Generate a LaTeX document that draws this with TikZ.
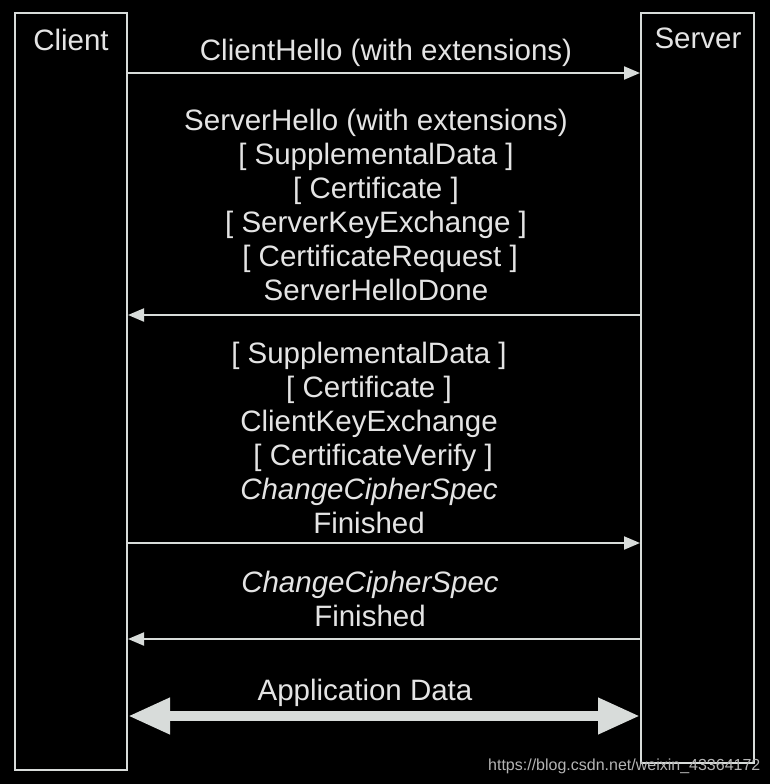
\documentclass[tikz,border=0pt]{standalone}
\usepackage{fontspec}
\setmainfont{Liberation Sans}
\usetikzlibrary{arrows.meta,calc}
\definecolor{paper}{HTML}{000000}
\definecolor{rule}{HTML}{D8DCDA}
\definecolor{ink}{HTML}{E4E4E4}
\definecolor{mark}{HTML}{B4B4B4}
\tikzset{
  party/.style={draw=rule, line width=2pt, fill=paper, minimum width=112pt,
                minimum height=757pt, inner sep=0pt},
  partyname/.style={text=ink, font=\fontsize{29.5}{30}\selectfont, inner sep=0pt},
  % message texts: centred stacks, one line per handshake message
  msgtext/.style={text=ink, align=center, inner sep=0pt,
                  font=\fontsize{29.5}{34}\selectfont},
  msg/.style={draw=rule, line width=2pt, -{Triangle[length=16pt,width=13pt]}},
  appdata/.style={draw=rule, line width=10pt,
                  {Triangle[length=42pt,width=34pt]}-{Triangle[length=42pt,width=34pt]}},
}

\begin{document}
\begin{tikzpicture}[x=1pt, y=-1pt]
  \fill[paper] (0,0) rectangle (770,784);
  \useasboundingbox (0,0) rectangle (770,784);

  % --- the two parties -------------------------------------------------------
  \node[party, anchor=north west] (client) at (14,12) {};
  \node[party, anchor=north west, minimum width=113pt, minimum height=750pt] (server) at (640,12) {};
  \node[partyname] (clientname) at (71,40) {Client};
  \node[partyname] (servername) at (698,38) {Server};

  % y levels of the messages
  \coordinate (l1) at (0,73);
  \coordinate (l2) at (0,315);
  \coordinate (l3) at (0,543);
  \coordinate (l4) at (0,639);
  \coordinate (l5) at (0,716);

  % --- flights ---------------------------------------------------------------
  \draw[msg] (client.east |- l1) -- (server.west |- l1);
  \draw[msg] (server.west |- l2) -- (client.east |- l2);
  \draw[msg] (client.east |- l3) -- (server.west |- l3);
  \draw[msg] (server.west |- l4) -- (client.east |- l4);
  \draw[appdata] (client.east |- l5) -- (server.west |- l5);

  % --- what each flight carries ---------------------------------------------
  \node[msgtext] (hello) at (386,53) {ClientHello (with extensions)};
  \node[msgtext] (shello) at (376,205)
    {ServerHello (with extensions)\\{[} SupplementalData {]}\\{[} Certificate {]}\\
     {[} ServerKeyExchange {]}\\\ {[} CertificateRequest {]}\\ServerHelloDone};
  \node[msgtext] (ckex) at (369,438)
    {{[} SupplementalData {]}\\{[} Certificate {]}\\ClientKeyExchange\\
     \ {[} CertificateVerify {]}\\\itshape ChangeCipherSpec\\Finished};
  \node[msgtext] (sfin) at (370,599) {\itshape ChangeCipherSpec\\Finished};
  \node[msgtext] (app) at (365,693) {Application Data};

  \node[text=mark, anchor=west, inner sep=0pt, font=\fontsize{16}{18}\selectfont]
    (url) at (488,766) {https://blog.csdn.net/weixin\_43364172};

\end{tikzpicture}
\end{document}
